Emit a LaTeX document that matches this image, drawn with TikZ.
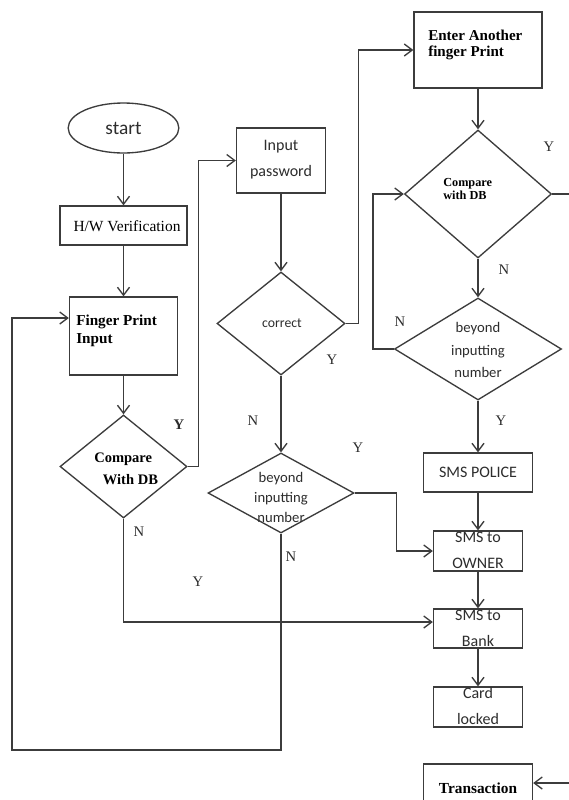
\documentclass[tikz,border=0pt]{standalone}
\usepackage{fontspec}
\setmainfont{Liberation Serif}
\newfontfamily\calibrifont{Carlito}
\usetikzlibrary{shapes.geometric,arrows.meta,calc}
\definecolor{linec}{RGB}{60,60,60}
\definecolor{textc}{RGB}{45,45,45}
\begin{document}
\begin{tikzpicture}[x=0.75pt,y=-0.75pt,
  box/.style={draw=linec, line width=1pt, inner sep=0pt, fill=white},
  dia/.style={draw=linec, line width=1pt, diamond, inner sep=0pt, fill=white},
  arr/.style={draw=linec, line width=1pt, -{Straight Barb[length=6pt,width=9pt,line width=1pt]}},
  txt/.style={inner sep=0pt, align=center, text=textc},
  sansA/.style={txt, font=\calibrifont\fontsize{12}{19.5}\selectfont},
  bsA/.style={inner sep=0pt, align=left, text=black, font=\bfseries\fontsize{11.4}{13.5}\selectfont},
  yn/.style={inner sep=0pt, text=textc, font=\fontsize{11}{13}\selectfont}
]
\path[use as bounding box, fill=white] (0,0) rectangle (568,800);

% left column
\node[box, ellipse, minimum width=83pt, minimum height=37.5pt, font=\calibrifont\fontsize{14.5}{17}\selectfont, text=textc] (start) at (123.5,128) {start};
\node[box, minimum width=95.25pt, minimum height=29.25pt] (hw) at (123.5,225.5) {};
\node[txt, text=black, font=\fontsize{11.6}{13}\selectfont] (hwt) at (127,226) {H/W Verification};
\node[box, minimum width=81pt, minimum height=58.5pt] (fpi) at (123.5,336) {};
\node[bsA, anchor=west] (fpit) at (76,331) {Finger Print\\Input};
\node[dia, minimum width=95.25pt, minimum height=77.25pt] (cmp1) at (123.5,466.5) {};
\node[bsA, anchor=west, font=\bfseries\fontsize{10.9}{16.5}\selectfont] (cmp1t) at (94,469) {Compare\\\hspace*{6.5pt}With DB};

% middle column
\node[box, minimum width=66.75pt, minimum height=48.75pt] (pwd) at (281,160.5) {};
\node[sansA] (pwdt) at (281,160) {Input\\password};
\node[dia, minimum width=96pt, minimum height=77.25pt] (corr) at (281,323.5) {};
\node[txt, font=\calibrifont\fontsize{10.3}{12}\selectfont] (corrt) at (282,323) {correct};
\node[dia, minimum width=109.5pt, minimum height=60pt] (bey1) at (281,493) {};
\node[txt, font=\calibrifont\fontsize{11}{15}\selectfont] (bey1t) at (281,497) {beyond\\inputting\\number};

% right column
\node[box, minimum width=96pt, minimum height=57pt] (enter) at (478,50) {};
\node[bsA, anchor=west, font=\bfseries\fontsize{11.3}{12}\selectfont] (entert) at (428,45) {Enter Another\\finger Print};
\node[dia, minimum width=110.25pt, minimum height=96pt] (cmp2) at (478,194) {};
\node[bsA, anchor=west, font=\bfseries\fontsize{9.2}{10}\selectfont] (cmp2t) at (443,189) {Compare\\with DB};
\node[dia, minimum width=125.25pt, minimum height=76.5pt] (bey2) at (478,349) {};
\node[txt, font=\calibrifont\fontsize{11}{17}\selectfont] (bey2t) at (478,350) {beyond\\inputting\\number};
\node[box, minimum width=81.75pt, minimum height=29.25pt, font=\calibrifont\fontsize{12}{14}\selectfont, text=textc] (police) at (478,472.5) {SMS POLICE};
\node[box, minimum width=66.75pt, minimum height=30pt] (owner) at (478,551) {};
\node[sansA] (ownert) at (478,550) {SMS to\\OWNER};
\node[box, minimum width=66.75pt, minimum height=29.25pt] (bank) at (478,628.5) {};
\node[sansA] (bankt) at (478,628) {SMS to\\Bank};
\node[box, minimum width=66.75pt, minimum height=30pt] (card) at (478,707) {};
\node[sansA] (cardt) at (478,706) {Card\\locked};
\node[box, minimum width=81.75pt, minimum height=39pt] (trans) at (478,790) {};
\node[inner sep=0pt, font=\bfseries\fontsize{11.5}{13}\selectfont] (transt) at (478,788) {Transaction};

% connectors
\draw[arr] (start.south) -- (hw.north);
\draw[arr] (hw.south) -- (fpi.north);
\draw[arr] (fpi.south) -- (cmp1.north);
\draw[arr] (cmp1.east) -- ++(11,0) |- (pwd.west);
\draw[arr] (pwd.south) -- (corr.north);
\draw[arr] (corr.east) -- ++(13,0) |- (enter.west);
\draw[arr] (enter.south) -- (cmp2.north);
\draw[arr] (cmp2.south) -- (bey2.north);
\draw[arr] (bey2.west) -- ++(-21,0) |- (cmp2.west);
\draw[arr] (bey2.south) -- (police.north);
\draw[arr] (police.south) -- (owner.north);
\draw[arr] (owner.south) -- (bank.north);
\draw[arr] (bank.south) -- (card.north);
\draw[arr] (corr.south) -- (bey1.north);
\draw[arr] (bey1.east) -- ++(42,0) |- (owner.west);
\draw[arr] (bey1.south) |- (12,750) |- (fpi.west |- 0,318);
\draw[arr] (cmp1.south) |- (bank.west |- 0,622);
\draw[arr] (cmp2.east) -- (600,194) |- (trans.east |- 0,783);

% labels
\node[yn, font=\bfseries\fontsize{11}{13}\selectfont] (y1) at (179,425) {Y};
\node[yn] (n1) at (139,532) {N};
\node[yn] (y2) at (198,582) {Y};
\node[yn] (n2) at (253,421) {N};
\node[yn] (n3) at (291,557) {N};
\node[yn] (y3) at (358,448) {Y};
\node[yn] (y4) at (332,360) {Y};
\node[yn] (y5) at (549,147) {Y};
\node[yn] (n4) at (504,270) {N};
\node[yn] (n5) at (400,322) {N};
\node[yn] (y6) at (501,421) {Y};
\end{tikzpicture}
\end{document}
